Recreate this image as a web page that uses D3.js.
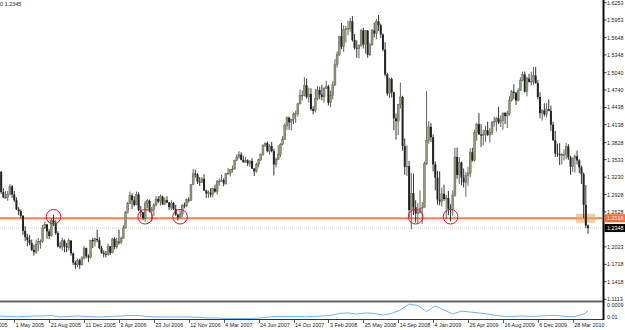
<!DOCTYPE html>
<html>
<head>
<meta charset="utf-8">
<script src="https://cdn.jsdelivr.net/npm/d3@7"></script>
<style>
  body { margin: 0; background: #fff; }
  svg { display: block; font-family: "Liberation Sans", Arial, sans-serif; }
</style>
</head>
<body>
<svg id="chart" width="625" height="330"></svg>
<script>
// weekly bars, one per Sunday from firstWeek to lastWeek
const firstWeek = "13 Mar 2005";
const lastWeek = "16 May 2010";

const openP = [
  1.3410,1.3320,1.2970,1.2880,1.2880,1.2930,1.3070,1.2930,1.2830,1.2670,
  1.2640,1.2560,1.2300,1.2190,1.2140,1.2090,1.1970,1.1930,1.2060,1.2110,
  1.2120,1.2350,1.2410,1.2290,1.2210,1.2480,1.2440,1.2260,1.2030,1.2020,
  1.2130,1.2030,1.2010,1.2130,1.1910,1.1750,1.1710,1.1790,1.1710,1.1830,
  1.2000,1.1860,1.1840,1.2140,1.2120,1.2160,1.2140,1.2000,1.1920,1.1900,
  1.1890,1.2030,1.1920,1.2160,1.2020,1.2110,1.2100,1.2170,1.2350,1.2620,
  1.2770,1.2910,1.2830,1.2750,1.2930,1.2660,1.2620,1.2520,1.2780,1.2820,
  1.2640,1.2670,1.2750,1.2850,1.2810,1.2890,1.2760,1.2830,1.2790,1.2710,
  1.2780,1.2680,1.2580,1.2530,1.2590,1.2740,1.2730,1.2840,1.2830,1.3100,
  1.3290,1.3280,1.3150,1.3140,1.3200,1.3000,1.2950,1.2960,1.2930,1.3030,
  1.2980,1.3150,1.3160,1.3180,1.3120,1.3290,1.3300,1.3360,1.3370,1.3520,
  1.3580,1.3620,1.3530,1.3490,1.3520,1.3470,1.3510,1.3380,1.3330,1.3450,
  1.3530,1.3620,1.3780,1.3820,1.3680,1.3770,1.3680,1.3450,1.3540,1.3620,
  1.3800,1.3880,1.4120,1.4260,1.4180,1.4230,1.4320,1.4330,1.4500,1.4650,
  1.4650,1.4820,1.4620,1.4670,1.4410,1.4380,1.4590,1.4740,1.4660,1.4620,
  1.4770,1.4800,1.4520,1.4640,1.4830,1.5180,1.5360,1.5670,1.5490,1.5790,
  1.5800,1.5810,1.5930,1.5610,1.5470,1.5460,1.5510,1.5770,1.5530,1.5770,
  1.5350,1.5520,1.5770,1.5720,1.5930,1.5860,1.5700,1.5440,1.5010,1.4680,
  1.4930,1.4700,1.4250,1.4200,1.4490,1.4620,1.3770,1.3410,1.3420,1.2660,
  1.2950,1.2710,1.2600,1.2620,1.2690,1.2710,1.3460,1.3870,1.4100,1.3920,
  1.3450,1.3220,1.2840,1.2810,1.2940,1.2850,1.2870,1.2680,1.2670,1.2920,
  1.3580,1.3270,1.3480,1.3220,1.3140,1.3260,1.3300,1.3660,1.3520,1.4000,
  1.4150,1.3970,1.3950,1.3970,1.4040,1.3960,1.4000,1.4180,1.4190,1.4250,
  1.4180,1.4210,1.4340,1.4290,1.4330,1.4560,1.4710,1.4690,1.4560,1.4730,
  1.4900,1.5010,1.4710,1.4940,1.4880,1.4890,1.4990,1.4860,1.4620,1.4340,
  1.4380,1.4320,1.4410,1.4380,1.4140,1.3870,1.3640,1.3630,1.3610,1.3620,
  1.3620,1.3760,1.3570,1.3410,1.3560,1.3590,1.3520,1.3400,1.3280,1.2750,
  1.2390
];
const highP = [
  1.3470,1.3340,1.3040,1.2990,1.2990,1.3110,1.3090,1.2990,1.2880,1.2710,
  1.2670,1.2570,1.2380,1.2250,1.2230,1.2150,1.2060,1.2150,1.2180,1.2150,
  1.2400,1.2460,1.2420,1.2330,1.2520,1.2580,1.2480,1.2290,1.2110,1.2180,
  1.2150,1.2090,1.2170,1.2140,1.1920,1.1780,1.1820,1.1820,1.1860,1.2040,
  1.2010,1.1890,1.2140,1.2180,1.2180,1.2320,1.2190,1.2040,1.1960,1.1950,
  1.2080,1.2040,1.2180,1.2190,1.2180,1.2320,1.2200,1.2400,1.2640,1.2800,
  1.2980,1.2950,1.2900,1.2980,1.2970,1.2730,1.2630,1.2820,1.2850,1.2840,
  1.2710,1.2780,1.2900,1.2900,1.2930,1.2910,1.2880,1.2900,1.2800,1.2830,
  1.2800,1.2750,1.2600,1.2660,1.2770,1.2790,1.2860,1.2880,1.3110,1.3370,
  1.3360,1.3300,1.3230,1.3230,1.3280,1.3010,1.3000,1.3040,1.3050,1.3100,
  1.3180,1.3210,1.3270,1.3210,1.3300,1.3390,1.3370,1.3430,1.3530,1.3620,
  1.3680,1.3660,1.3600,1.3580,1.3540,1.3520,1.3560,1.3390,1.3480,1.3550,
  1.3640,1.3800,1.3830,1.3850,1.3800,1.3840,1.3720,1.3570,1.3780,1.3820,
  1.3940,1.4160,1.4280,1.4280,1.4240,1.4350,1.4380,1.4520,1.4750,1.4730,
  1.4960,1.4940,1.4780,1.4770,1.4460,1.4760,1.4810,1.4800,1.4830,1.4790,
  1.4900,1.4830,1.4730,1.4890,1.5280,1.5410,1.5680,1.5900,1.5860,1.5850,
  1.5940,1.5990,1.6020,1.5710,1.5600,1.5530,1.5800,1.5820,1.5780,1.5780,
  1.5560,1.5800,1.5910,1.5970,1.6040,1.5890,1.5720,1.5570,1.5040,1.4950,
  1.4960,1.4710,1.4330,1.4500,1.4870,1.4640,1.3900,1.3780,1.3510,1.3300,
  1.3290,1.2830,1.2780,1.3000,1.2800,1.3500,1.4720,1.4200,1.4170,1.3970,
  1.3500,1.3340,1.3330,1.3050,1.3100,1.2920,1.2990,1.2760,1.3000,1.3740,
  1.3740,1.3580,1.3500,1.3380,1.3320,1.3410,1.3730,1.3740,1.4050,1.4170,
  1.4340,1.4150,1.4050,1.4120,1.4190,1.4080,1.4200,1.4280,1.4270,1.4450,
  1.4300,1.4350,1.4360,1.4380,1.4630,1.4740,1.4840,1.4710,1.4770,1.4960,
  1.5060,1.5060,1.4970,1.5020,1.5060,1.5140,1.5140,1.4910,1.4700,1.4410,
  1.4510,1.4510,1.4580,1.4470,1.4190,1.4030,1.3810,1.3820,1.3650,1.3710,
  1.3820,1.3800,1.3600,1.3570,1.3620,1.3690,1.3540,1.3430,1.3310,1.3090,
  1.2410
];
const lowP = [
  1.3290,1.2940,1.2870,1.2850,1.2820,1.2920,1.2870,1.2800,1.2660,1.2570,
  1.2520,1.2230,1.2120,1.2030,1.2050,1.1950,1.1870,1.1900,1.1950,1.1990,
  1.2090,1.2330,1.2160,1.2160,1.2200,1.2380,1.2230,1.2010,1.1990,1.1960,
  1.1930,1.1930,1.1960,1.1870,1.1710,1.1640,1.1670,1.1640,1.1700,1.1800,
  1.1820,1.1760,1.1820,1.2000,1.2030,1.2100,1.1980,1.1900,1.1840,1.1840,
  1.1870,1.1880,1.1910,1.1980,1.1990,1.2060,1.2070,1.2160,1.2340,1.2600,
  1.2760,1.2680,1.2720,1.2740,1.2640,1.2540,1.2480,1.2460,1.2690,1.2620,
  1.2460,1.2560,1.2720,1.2780,1.2740,1.2750,1.2750,1.2780,1.2660,1.2660,
  1.2660,1.2560,1.2480,1.2520,1.2540,1.2690,1.2710,1.2790,1.2820,1.3090,
  1.3220,1.3110,1.3080,1.3130,1.2990,1.2870,1.2870,1.2880,1.2880,1.2960,
  1.2930,1.3080,1.3150,1.3070,1.3100,1.3270,1.3240,1.3310,1.3360,1.3510,
  1.3550,1.3520,1.3480,1.3480,1.3420,1.3410,1.3370,1.3250,1.3310,1.3400,
  1.3510,1.3600,1.3750,1.3660,1.3620,1.3660,1.3260,1.3400,1.3530,1.3580,
  1.3780,1.3870,1.4050,1.4050,1.4040,1.4150,1.4170,1.4280,1.4490,1.4560,
  1.4630,1.4590,1.4520,1.4380,1.4320,1.4350,1.4560,1.4580,1.4560,1.4520,
  1.4760,1.4470,1.4440,1.4580,1.4810,1.5130,1.5330,1.5450,1.5400,1.5560,
  1.5690,1.5750,1.5580,1.5440,1.5300,1.5290,1.5490,1.5460,1.5370,1.5300,
  1.5330,1.5510,1.5650,1.5620,1.5760,1.5640,1.5410,1.4980,1.4640,1.4600,
  1.4610,1.4040,1.3880,1.3960,1.4420,1.3690,1.3270,1.3250,1.2530,1.2330,
  1.2570,1.2440,1.2420,1.2600,1.2420,1.2700,1.3440,1.3810,1.3840,1.3330,
  1.3000,1.2750,1.2740,1.2720,1.2820,1.2510,1.2570,1.2460,1.2560,1.2890,
  1.3200,1.3110,1.3090,1.3050,1.2890,1.3080,1.3230,1.3500,1.3500,1.3860,
  1.3960,1.3750,1.3780,1.3840,1.3940,1.3830,1.3960,1.4100,1.4020,1.4150,
  1.4100,1.4050,1.4150,1.4080,1.4300,1.4540,1.4580,1.4480,1.4540,1.4720,
  1.4890,1.4700,1.4630,1.4870,1.4820,1.4830,1.4850,1.4580,1.4250,1.4210,
  1.4280,1.4260,1.4370,1.4030,1.3860,1.3580,1.3580,1.3440,1.3450,1.3520,
  1.3540,1.3530,1.3270,1.3320,1.3310,1.3450,1.3300,1.3110,1.2520,1.2350,
  1.2250
];
const closeP = [
  1.3320,1.2970,1.2880,1.2880,1.2930,1.3070,1.2930,1.2830,1.2670,1.2640,
  1.2560,1.2300,1.2190,1.2140,1.2090,1.1970,1.1930,1.2060,1.2110,1.2120,
  1.2350,1.2410,1.2290,1.2210,1.2480,1.2440,1.2260,1.2030,1.2020,1.2130,
  1.2030,1.2010,1.2130,1.1910,1.1750,1.1710,1.1790,1.1710,1.1830,1.2000,
  1.1860,1.1840,1.2140,1.2120,1.2160,1.2140,1.2000,1.1920,1.1900,1.1890,
  1.2030,1.1920,1.2160,1.2020,1.2110,1.2100,1.2170,1.2350,1.2620,1.2770,
  1.2910,1.2830,1.2750,1.2930,1.2660,1.2620,1.2520,1.2780,1.2820,1.2640,
  1.2670,1.2750,1.2850,1.2810,1.2890,1.2760,1.2830,1.2790,1.2710,1.2780,
  1.2680,1.2580,1.2530,1.2590,1.2740,1.2730,1.2840,1.2830,1.3100,1.3290,
  1.3280,1.3150,1.3140,1.3200,1.3000,1.2950,1.2960,1.2930,1.3030,1.2980,
  1.3150,1.3160,1.3180,1.3120,1.3290,1.3300,1.3360,1.3370,1.3520,1.3580,
  1.3620,1.3530,1.3490,1.3520,1.3470,1.3510,1.3380,1.3330,1.3450,1.3530,
  1.3620,1.3780,1.3820,1.3680,1.3770,1.3680,1.3450,1.3540,1.3620,1.3800,
  1.3880,1.4120,1.4260,1.4180,1.4230,1.4320,1.4330,1.4500,1.4650,1.4650,
  1.4820,1.4620,1.4670,1.4410,1.4380,1.4590,1.4740,1.4660,1.4620,1.4770,
  1.4800,1.4520,1.4640,1.4830,1.5180,1.5360,1.5670,1.5490,1.5790,1.5800,
  1.5810,1.5930,1.5610,1.5470,1.5460,1.5510,1.5770,1.5530,1.5770,1.5350,
  1.5520,1.5770,1.5720,1.5930,1.5860,1.5700,1.5440,1.5010,1.4680,1.4930,
  1.4700,1.4250,1.4200,1.4490,1.4620,1.3770,1.3410,1.3420,1.2660,1.2950,
  1.2710,1.2600,1.2620,1.2690,1.2710,1.3460,1.3870,1.4100,1.3920,1.3450,
  1.3220,1.2840,1.2810,1.2940,1.2850,1.2870,1.2680,1.2670,1.2920,1.3580,
  1.3270,1.3480,1.3220,1.3140,1.3260,1.3300,1.3660,1.3520,1.4000,1.4150,
  1.3970,1.3950,1.3970,1.4040,1.3960,1.4000,1.4180,1.4190,1.4250,1.4180,
  1.4210,1.4340,1.4290,1.4330,1.4560,1.4710,1.4690,1.4560,1.4730,1.4900,
  1.5010,1.4710,1.4940,1.4880,1.4890,1.4990,1.4860,1.4620,1.4340,1.4380,
  1.4320,1.4410,1.4380,1.4140,1.3870,1.3640,1.3630,1.3610,1.3620,1.3620,
  1.3760,1.3570,1.3410,1.3560,1.3590,1.3520,1.3400,1.3280,1.2750,1.2390,
  1.2348
];

// lower panel line, one value every 4 weeks (last one on the final week)
const indicatorStep = 4;
const indicator = [
  0.013,0.011,0.009,0.011,0.013,0.013,0.015,0.009,0.011,0.013,
  0.011,0.009,0.009,0.011,0.013,0.015,0.015,0.011,0.009,0.009,
  0.009,0.009,0.009,0.007,0.0045,0.0045,0.0025,0.0025,0.0025,0.0025,
  0.0045,0.009,0.011,0.011,0.011,0.009,0.011,0.013,0.015,0.024,
  0.026,0.0215,0.026,0.024,0.017,0.024,0.0386,0.064,0.058,0.032,
  0.056,0.0386,0.0215,0.034,0.030,0.026,0.0215,0.015,0.011,0.011,
  0.013,0.011,0.013,0.015,0.015,0.011,0.011,0.0215,0.034
];

const priceTicks = [1.6253,1.5953,1.5648,1.5348,1.5040,1.4740,1.4438,1.4138,1.3828,
  1.3533,1.3230,1.2928,1.2628,1.2023,1.1718,1.1418,1.1113];
const dateLabels = ["9 Jan 2005","1 May 2005","21 Aug 2005","11 Dec 2005","2 Apr 2006",
  "23 Jul 2006","12 Nov 2006","4 Mar 2007","24 Jun 2007","14 Oct 2007","3 Feb 2008",
  "25 May 2008","14 Sep 2008","4 Jan 2009","26 Apr 2009","16 Aug 2009","6 Dec 2009","28 Mar 2010"];
const indTicks = [0.06, 0.01];
const indTickLabels = ["0.0009", "0.01"];

const supportLevel = 1.2518;
const lastPrice = 1.2348;
const touchDates = ["4 Sep 2005","25 Jun 2006","15 Oct 2006","9 Nov 2008","1 Mar 2009"];
const boxDates = ["11 Apr 2010", "16 May 2010"];
const headerText = "0 1.2345";

const parse = d3.timeParse("%d %b %Y");
const weeks = d3.timeWeek.range(parse(firstWeek), d3.timeDay.offset(parse(lastWeek), 1));
const bars = weeks.map((d, i) => ({ date: d, o: openP[i], h: highP[i], l: lowP[i], c: closeP[i] }));

const svg = d3.select("#chart");
const axisX = 603.5;

const x = d3.scaleTime().domain([weeks[0], weeks[weeks.length - 1]]).range([-1, 588]);
const y = d3.scaleLinear().domain([1.1113, 1.6253]).range([299.3, 2.7]);
const yi = d3.scaleLinear().domain([0.01, 0.06]).range([316.7, 305]);

svg.append("rect").attr("width", 625).attr("height", 330).attr("fill", "#fff");

svg.append("defs").append("clipPath").attr("id", "mainClip")
  .append("rect").attr("x", 0).attr("y", 0).attr("width", axisX - 1).attr("height", 300);

// header
svg.append("text").attr("x", 0).attr("y", 6).attr("font-size", 5.5).attr("fill", "#222").text(headerText);

const main = svg.append("g").attr("clip-path", "url(#mainClip)");

// bid line (dotted grey)
main.append("line")
  .attr("x1", 0).attr("x2", axisX).attr("y1", y(lastPrice)).attr("y2", y(lastPrice))
  .attr("stroke", "#c4c4c4").attr("stroke-width", 0.8).attr("stroke-dasharray", "1,1");

// support line
main.append("line")
  .attr("x1", 0).attr("x2", axisX).attr("y1", y(supportLevel)).attr("y2", y(supportLevel))
  .attr("stroke", "#ff7f4f").attr("stroke-width", 2);

// highlight box near the end
main.append("rect")
  .attr("x", x(parse(boxDates[0])) - 1).attr("y", y(supportLevel) - 4.5)
  .attr("width", x(parse(boxDates[1])) - x(parse(boxDates[0])) + 8).attr("height", 9)
  .attr("fill", "#e9a862").attr("fill-opacity", 0.6);

// candles
const candle = main.selectAll("g.bar").data(bars).join("g").attr("class", "bar");
candle.append("line")
  .attr("x1", d => x(d.date)).attr("x2", d => x(d.date))
  .attr("y1", d => y(d.h)).attr("y2", d => y(d.l))
  .attr("stroke", d => d.c >= d.o ? "#4d5248" : "#1e1e1e").attr("stroke-width", 0.9);
candle.append("rect")
  .attr("x", d => x(d.date) - 1).attr("width", 2)
  .attr("y", d => y(Math.max(d.o, d.c)))
  .attr("height", d => Math.max(0.8, Math.abs(y(d.o) - y(d.c))))
  .attr("fill", d => d.c >= d.o ? "#8d9877" : "#222")
  .attr("stroke", d => d.c >= d.o ? "#5a6052" : "none").attr("stroke-width", 0.4);

// red circles where price touched the level
main.selectAll("circle.touch").data(touchDates).join("circle").attr("class", "touch")
  .attr("cx", d => x(parse(d))).attr("cy", y(supportLevel) - 1.5).attr("r", 7.3)
  .attr("fill", "none").attr("stroke", "#e2142d").attr("stroke-width", 1);

// panel separator
svg.append("line").attr("x1", 0).attr("x2", axisX).attr("y1", 301.5).attr("y2", 301.5)
  .attr("stroke", "#666").attr("stroke-width", 2);

// indicator line
const indPoints = indicator.map((v, k) => ({ date: weeks[Math.min(k * indicatorStep, weeks.length - 1)], v }));
svg.append("path").datum(indPoints)
  .attr("d", d3.line().x(d => x(d.date)).y(d => yi(d.v)))
  .attr("fill", "none").attr("stroke", "#6fb3f5").attr("stroke-width", 1);

// bottom axis
svg.append("line").attr("x1", 0).attr("x2", axisX).attr("y1", 319.5).attr("y2", 319.5)
  .attr("stroke", "#333").attr("stroke-width", 1);
const dates = dateLabels.map(s => ({ s, d: parse(s) }));
svg.selectAll("line.dtick").data(dates).join("line").attr("class", "dtick")
  .attr("x1", d => Math.round(x(d.d)) + 0.5).attr("x2", d => Math.round(x(d.d)) + 0.5)
  .attr("y1", 319.5).attr("y2", 323).attr("stroke", "#333").attr("stroke-width", 0.8);
svg.selectAll("text.dlab").data(dates).join("text").attr("class", "dlab")
  .attr("x", d => x(d.d) + 1.5).attr("y", 326.8)
  .attr("font-size", 5.4).attr("fill", "#222").text(d => d.s);

// right axis
svg.append("line").attr("x1", axisX).attr("x2", axisX).attr("y1", 0).attr("y2", 320)
  .attr("stroke", "#111").attr("stroke-width", 2);
svg.selectAll("line.ptick").data(priceTicks).join("line").attr("class", "ptick")
  .attr("x1", axisX).attr("x2", axisX + 3).attr("y1", d => y(d)).attr("y2", d => y(d))
  .attr("stroke", "#111").attr("stroke-width", 0.8);
svg.selectAll("text.plab").data(priceTicks).join("text").attr("class", "plab")
  .attr("x", 607).attr("y", d => y(d) + 2)
  .attr("font-size", 5.4).attr("fill", "#222").text(d => d.toFixed(4));

svg.selectAll("text.ilab").data(indTicks).join("text").attr("class", "ilab")
  .attr("x", 607).attr("y", d => yi(d) + 2)
  .attr("font-size", 5.4).attr("fill", "#222").text((d, i) => indTickLabels[i]);

// price tags
const tags = [
  { v: supportLevel, bg: "#ff6a2e" },
  { v: lastPrice, bg: "#000" }
];
const tag = svg.selectAll("g.tag").data(tags).join("g").attr("class", "tag");
tag.append("rect").attr("x", axisX + 1).attr("y", d => y(d.v) - 4)
  .attr("width", 625 - axisX).attr("height", 8).attr("fill", d => d.bg);
tag.append("text").attr("x", 607).attr("y", d => y(d.v) + 2)
  .attr("font-size", 5.4).attr("fill", "#fff").text(d => d.v.toFixed(4));
</script>
</body>
</html>
